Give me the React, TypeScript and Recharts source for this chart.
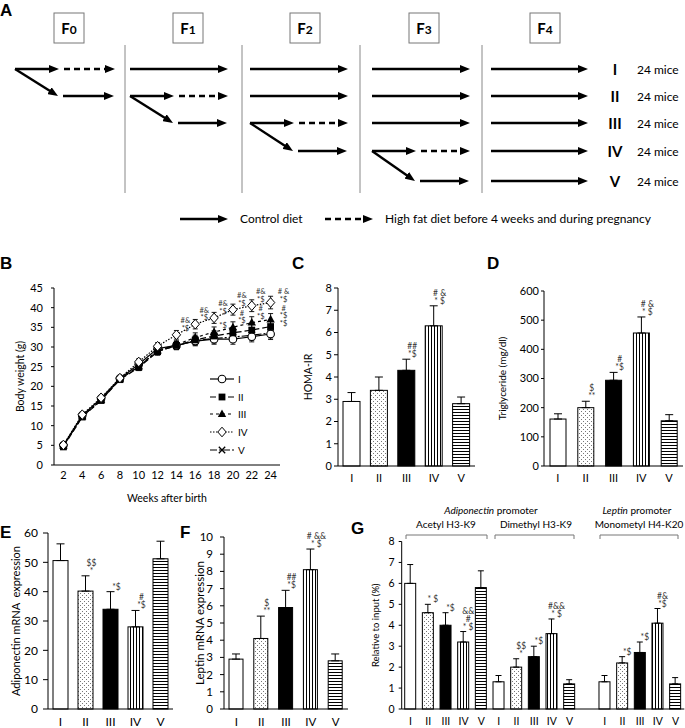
import React from "react";
import { LineChart, Line, BarChart, Bar, XAxis, YAxis, ErrorBar, Legend, Label } from "recharts";

const FONT = 'Lato, "Liberation Sans", Arial, sans-serif';
const INK = "#000";
const NOTE_INK = "#333";

// ---------- A: breeding scheme ----------
const generations = ["F0", "F1", "F2", "F3", "F4"];
const lineages = ["I", "II", "III", "IV", "V"];
const miceLabel = "24 mice";

// ---------- B: body weight (g) ----------
const weeks = [2, 4, 6, 8, 10, 12, 14, 16, 18, 20, 22, 24];
const weightI = [5.0, 12.6, 16.9, 22.0, 25.6, 29.6, 30.4, 31.5, 32.0, 32.0, 32.6, 33.3];
const weightII = [4.6, 12.2, 16.4, 21.7, 24.8, 28.8, 30.4, 31.8, 32.8, 33.6, 34.3, 35.2];
const weightIII = [4.9, 12.4, 16.6, 21.9, 25.1, 29.1, 30.6, 32.4, 33.8, 35.0, 36.2, 37.0];
const weightIV = [5.1, 12.8, 17.1, 22.1, 26.2, 30.2, 33.1, 35.8, 37.4, 39.5, 40.5, 41.3];
const weightV = [4.8, 12.3, 16.5, 21.8, 25.0, 29.0, 30.3, 31.6, 32.2, 32.5, 33.0, 33.6];
const weightSemI = [0.4, 0.6, 0.6, 0.6, 0.8, 0.9, 1.0, 1.2, 1.3, 1.3, 1.3, 1.4];
const weightSemII = [0.4, 0.6, 0.6, 0.6, 0.8, 0.9, 1.0, 1.2, 1.3, 1.4, 1.4, 1.5];
const weightSemIII = [0.4, 0.6, 0.6, 0.6, 0.8, 0.9, 1.0, 1.2, 1.3, 1.4, 1.5, 1.5];
const weightSemIV = [0.4, 0.6, 0.6, 0.6, 0.8, 0.9, 1.1, 1.2, 1.4, 1.4, 1.5, 1.6];
const weightSemV = [0.4, 0.6, 0.6, 0.6, 0.8, 0.9, 1.0, 1.1, 1.2, 1.2, 1.3, 1.3];
const notesI: string[] = [];
const notesII = ["", "", "", "", "", "", "", "", "", "", "", "*$"];
const notesIII = ["", "", "", "", "", "", "", "", "*$", "#|*$", "#|*$", "#|*$"];
const notesIV = ["", "", "", "", "", "", "#&|*$", "#&|*$", "#&|*$", "#&|*$", "#&|*$", "# &|*$"];
const notesV: string[] = [];
const weightTicks = [0, 5, 10, 15, 20, 25, 30, 35, 40, 45];

// ---------- C-G: group bars ----------
const groups = ["I", "II", "III", "IV", "V"];
const homaIr = [2.9, 3.4, 4.3, 6.3, 2.8];
const homaIrSem = [0.4, 0.6, 0.5, 0.9, 0.3];
const homaIrNotes = ["", "", "##|*$", "# &|* $", ""];
const triglyceride = [161, 200, 294, 456, 155];
const triglycerideSem = [18, 22, 27, 55, 21];
const triglycerideNotes = ["", "$|**", "#|*$", "# &|* $", ""];
const adiponectinMrna = [50.6, 40.2, 34.0, 28.0, 51.2];
const adiponectinMrnaSem = [5.7, 5.2, 6.0, 5.6, 6.0];
const adiponectinNotes = ["", "$$|*", "*$", "#|*$", ""];
const leptinMrna = [2.9, 4.1, 5.9, 8.1, 2.8];
const leptinMrnaSem = [0.3, 1.3, 1.0, 1.2, 0.4];
const leptinNotes = ["", "$|**", "##|*$", "# &&|* $", ""];
const acetylH3K9 = [6.0, 4.6, 4.0, 3.2, 5.8];
const acetylH3K9Sem = [0.9, 0.4, 0.6, 0.5, 0.8];
const acetylNotes = ["", "* $", "*$", "&&|#|* $", ""];
const dimethylH3K9 = [1.3, 2.0, 2.5, 3.6, 1.2];
const dimethylH3K9Sem = [0.3, 0.4, 0.5, 0.7, 0.2];
const dimethylNotes = ["", "$$|*", "*$", "#&&|* $", ""];
const monomethylH4K20 = [1.3, 2.2, 2.7, 4.1, 1.2];
const monomethylH4K20Sem = [0.3, 0.3, 0.5, 0.7, 0.3];
const monomethylNotes = ["", "*$", "*$", "#&|*$", ""];

const ticksC = [0, 1, 2, 3, 4, 5, 6, 7, 8];
const ticksD = [0, 100, 200, 300, 400, 500, 600];
const ticksE = [0, 10, 20, 30, 40, 50, 60];
const ticksF = [0, 1, 2, 3, 4, 5, 6, 7, 8, 9, 10];
const ticksG = [0, 1, 2, 3, 4, 5, 6, 7, 8];

const FILL_BY_GROUP: Record<string, string> = {
  I: "#fff",
  II: "url(#pat-dots)",
  III: "#000",
  IV: "url(#pat-vert)",
  V: "url(#pat-horz)",
};

const toRows = (values: number[], sem: number[], notes: string[]) =>
  groups.map((g, i) => ({ label: g, value: values[i], err: [0, sem[i]], note: notes[i] }));

const rowsC = toRows(homaIr, homaIrSem, homaIrNotes);
const rowsD = toRows(triglyceride, triglycerideSem, triglycerideNotes);
const rowsE = toRows(adiponectinMrna, adiponectinMrnaSem, adiponectinNotes);
const rowsF = toRows(leptinMrna, leptinMrnaSem, leptinNotes);
const rowsG = [
  ...toRows(acetylH3K9, acetylH3K9Sem, acetylNotes),
  ...toRows(dimethylH3K9, dimethylH3K9Sem, dimethylNotes),
  { label: "", value: null, err: null, note: "" },
  ...toRows(monomethylH4K20, monomethylH4K20Sem, monomethylNotes),
];

const SERIES = [
  { key: "I", values: weightI, sem: weightSemI, notes: notesI, dash: undefined, marker: "circle" },
  { key: "II", values: weightII, sem: weightSemII, notes: notesII, dash: "6 3", marker: "square" },
  { key: "III", values: weightIII, sem: weightSemIII, notes: notesIII, dash: "3 3", marker: "triangle" },
  { key: "IV", values: weightIV, sem: weightSemIV, notes: notesIV, dash: "1.5 1.5", marker: "diamond" },
  { key: "V", values: weightV, sem: weightSemV, notes: notesV, dash: "7 2 2 2", marker: "cross" },
];
const DRAW_ORDER = ["V", "I", "II", "III", "IV"];

const weightRows = weeks.map((w, i) => {
  const row: any = { week: w };
  SERIES.forEach((s) => {
    row[s.key] = s.values[i];
    row[s.key + "Err"] = s.sem[i];
    row[s.key + "Note"] = s.notes[i] ?? "";
  });
  return row;
});

function Marker({ kind, cx, cy }: { kind: string; cx: number; cy: number }) {
  switch (kind) {
    case "circle":
      return <circle cx={cx} cy={cy} r={3.8} fill="#fff" stroke={INK} strokeWidth={1.1} />;
    case "square":
      return <rect x={cx - 3.4} y={cy - 3.4} width={6.8} height={6.8} fill={INK} />;
    case "triangle":
      return <polygon points={`${cx},${cy - 4.6} ${cx + 4.2},${cy + 3} ${cx - 4.2},${cy + 3}`} fill={INK} />;
    case "diamond":
      return (
        <polygon
          points={`${cx},${cy - 4.8} ${cx + 4.2},${cy} ${cx},${cy + 4.8} ${cx - 4.2},${cy}`}
          fill="#fff"
          stroke={INK}
          strokeWidth={1}
        />
      );
    default:
      return (
        <path
          d={`M${cx - 3.2},${cy - 3.2}L${cx + 3.2},${cy + 3.2}M${cx + 3.2},${cy - 3.2}L${cx - 3.2},${cy + 3.2}`}
          stroke={INK}
          strokeWidth={1.3}
        />
      );
  }
}

const noteLines = (note: string, x: number, base: number, step: number, size: number) => {
  if (!note) return null;
  const lines = note.split("|");
  return lines.map((t, i) => (
    <text
      key={i}
      x={x}
      y={base - (lines.length - 1 - i) * step}
      textAnchor="middle"
      fontSize={size}
      fill={NOTE_INK}
      style={{ whiteSpace: "pre" }}
    >
      {t}
    </text>
  ));
};

const renderPoint = (s: any) => (p: any) => {
  const { cx, cy, index, payload } = p;
  const last = index === weeks.length - 1;
  return (
    <g key={`${s.key}-${index}`}>
      <Marker kind={s.marker} cx={cx} cy={cy} />
      {noteLines(payload[s.key + "Note"], cx + (last ? 13 : 9), cy - (last ? 1 : 4), 7.5, 7.5)}
    </g>
  );
};

const renderLegend = () => (
  <div style={{ fontSize: 10, fontFamily: FONT, color: INK }}>
    {SERIES.map((s) => (
      <div key={s.key} style={{ display: "flex", alignItems: "center", height: 17.8 }}>
        <svg width={26} height={12}>
          <line x1={0} x2={24} y1={6} y2={6} stroke={INK} strokeWidth={1.2} strokeDasharray={s.dash} />
          <Marker kind={s.marker} cx={12} cy={6} />
        </svg>
        <span style={{ marginLeft: 2 }}>{s.key}</span>
      </div>
    ))}
  </div>
);

const yTitle = (text: string, dx: number, size: number) => (props: any) => {
  const vb = props.viewBox || {};
  const cx = (vb.x ?? 0) + dx;
  const cy = (vb.y ?? 0) + (vb.height ?? 0) / 2;
  return (
    <text
      x={cx}
      y={cy}
      transform={`rotate(-90 ${cx} ${cy})`}
      textAnchor="middle"
      dominantBaseline="central"
      fontSize={size}
      fill={INK}
      style={{ whiteSpace: "pre" }}
    >
      {text}
    </text>
  );
};

const makeBarShape = (noteDx: number) => (p: any) => {
  const { x, y, width, height, payload } = p;
  if (!payload || payload.value == null) return <g />;
  const errTop = y - (payload.err ? payload.err[1] : 0) * (height / payload.value);
  return (
    <g>
      <rect x={x} y={y} width={width} height={height} fill={FILL_BY_GROUP[payload.label]} stroke={INK} strokeWidth={1} />
      {noteLines(payload.note, x + width / 2 + noteDx, errTop - 2, 8, 8.5)}
    </g>
  );
};

type BarPanelProps = {
  rows: any[];
  ticks: number[];
  box: [number, number, number, number];
  margin: { top: number; right: number; bottom: number; left: number };
  xAxisHeight: number;
  barSize: number;
  title: string;
  titleDx: number;
  titleSize: number;
  fontSize: number;
  xTickMargin: number;
  yTickSize: number;
  yTickMargin: number;
  cap: number;
  noteDx: number;
};

function BarPanel(props: BarPanelProps) {
  const { rows, ticks, box, margin } = props;
  return (
    <div style={{ position: "absolute", left: box[0], top: box[1] }}>
      <BarChart width={box[2]} height={box[3]} data={rows} margin={margin}>
        <XAxis
          dataKey="label"
          interval={0}
          height={props.xAxisHeight}
          tickLine={false}
          tickSize={0}
          tickMargin={props.xTickMargin}
          axisLine={{ stroke: INK }}
          tick={{ fill: INK, fontSize: props.fontSize }}
        />
        <YAxis
          type="number"
          width={30}
          domain={[0, ticks[ticks.length - 1]]}
          ticks={ticks}
          interval={0}
          tickSize={props.yTickSize}
          tickMargin={props.yTickMargin}
          axisLine={{ stroke: INK }}
          tickLine={{ stroke: INK }}
          tick={{ fill: INK, fontSize: props.fontSize }}
        >
          <Label content={yTitle(props.title, props.titleDx, props.titleSize)} />
        </YAxis>
        <Bar dataKey="value" barSize={props.barSize} isAnimationActive={false} shape={makeBarShape(props.noteDx)}>
          <ErrorBar dataKey="err" direction="y" width={props.cap} stroke={INK} strokeWidth={1} />
        </Bar>
      </BarChart>
    </div>
  );
}

// ---------- A layout ----------
const COL_START = [15, 130, 250, 372, 491];
const COL_END = [115, 228, 348, 470, 588];
const ROW_Y = [69, 96, 123, 151, 181];
const BOX_CX = [69, 188, 305, 424, 545];
const SEP_X = [125, 242, 360, 482];

function Arrow({ x1, y1, x2, y2, dashed }: { x1: number; y1: number; x2: number; y2: number; dashed?: boolean }) {
  const len = Math.hypot(x2 - x1, y2 - y1);
  const ux = (x2 - x1) / len;
  const uy = (y2 - y1) / len;
  return (
    <line
      x1={x1}
      y1={y1}
      x2={x2 - ux * 7}
      y2={y2 - uy * 7}
      stroke={INK}
      strokeWidth={2.4}
      strokeDasharray={dashed ? "6 4" : undefined}
      markerEnd="url(#ahead)"
    />
  );
}

function SchemePanel() {
  const arrows: JSX.Element[] = [];
  generations.forEach((_g, g) => {
    const s = COL_START[g];
    const e = COL_END[g];
    lineages.forEach((_l, r) => {
      if (g === 4 || r < g) {
        arrows.push(<Arrow key={`f${g}-${r}`} x1={s} y1={ROW_Y[r]} x2={e} y2={ROW_Y[r]} />);
      }
      if (g < 4 && r === g) {
        arrows.push(<Arrow key={`s${g}`} x1={s} y1={ROW_Y[r]} x2={s + 44} y2={ROW_Y[r]} />);
        arrows.push(<Arrow key={`d${g}`} x1={s + 49} y1={ROW_Y[r]} x2={e} y2={ROW_Y[r]} dashed />);
        arrows.push(<Arrow key={`x${g}`} x1={s} y1={ROW_Y[r]} x2={s + 43} y2={ROW_Y[r + 1]} />);
        arrows.push(<Arrow key={`n${g}`} x1={s + 48} y1={ROW_Y[r + 1]} x2={e - 1} y2={ROW_Y[r + 1]} />);
      }
    });
  });
  return (
    <svg width={685} height={250} style={{ position: "absolute", left: 0, top: 0 }}>
      <defs>
        <marker id="ahead" viewBox="0 0 10 8" refX={3} refY={4} markerWidth={10} markerHeight={8} markerUnits="userSpaceOnUse" orient="auto">
          <path d="M0,0 L10,4 L0,8 z" fill={INK} />
        </marker>
      </defs>
      {generations.map((g, i) => (
        <g key={g}>
          <rect x={BOX_CX[i] - 15} y={13} width={30} height={30} fill="#fff" stroke="#777" strokeWidth={1} />
          <text x={BOX_CX[i]} y={34} textAnchor="middle" fontSize={15} fontWeight={700} fill={INK}>
            {g[0]}
            <tspan fontSize={12}>{g.slice(1)}</tspan>
          </text>
        </g>
      ))}
      {SEP_X.map((x) => (
        <line key={x} x1={x} x2={x} y1={45} y2={193} stroke="#888" strokeWidth={1} />
      ))}
      {arrows}
      {lineages.map((l, r) => (
        <g key={l}>
          <text x={615} y={ROW_Y[r] + 5.5} textAnchor="middle" fontSize={15} fontWeight={700} fill={INK}>
            {l}
          </text>
          <text x={637} y={ROW_Y[r] + 4.5} fontSize={12} fill={INK}>
            {miceLabel}
          </text>
        </g>
      ))}
      <Arrow x1={180} y1={219} x2={228} y2={219} />
      <text x={240} y={223} fontSize={12} fill={INK}>
        Control diet
      </text>
      <Arrow x1={325} y1={219} x2={373} y2={219} dashed />
      <text x={385} y={223} fontSize={12} fill={INK}>
        High fat diet before 4 weeks and during pregnancy
      </text>
    </svg>
  );
}

function WeightPanel() {
  return (
    <div style={{ position: "absolute", left: 0, top: 255 }}>
      <LineChart width={300} height={250} data={weightRows} margin={{ top: 33, right: 20, bottom: 0, left: 24 }}>
        <XAxis
          dataKey="week"
          height={40}
          interval={0}
          padding={{ left: 9.4, right: 9.4 }}
          tickLine={false}
          tickSize={0}
          tickMargin={6}
          axisLine={{ stroke: INK }}
          tick={{ fill: INK, fontSize: 11 }}
        >
          <Label value="Weeks after birth" position="insideBottom" offset={3} fontSize={10.5} fill={INK} />
        </XAxis>
        <YAxis
          type="number"
          width={30}
          domain={[0, 45]}
          ticks={weightTicks}
          interval={0}
          tickSize={3}
          tickMargin={8}
          axisLine={{ stroke: INK }}
          tickLine={{ stroke: INK }}
          tick={{ fill: INK, fontSize: 11 }}
        >
          <Label content={yTitle("Body weight (g)", -4, 10.5)} />
        </YAxis>
        <Legend
          layout="vertical"
          align="center"
          verticalAlign="middle"
          wrapperStyle={{ left: 210, top: 115, width: 50 }}
          content={renderLegend}
        />
        {DRAW_ORDER.map((k) => {
          const s = SERIES.find((x) => x.key === k)!;
          return (
            <Line
              key={k}
              type="linear"
              dataKey={k}
              stroke={INK}
              strokeWidth={1.2}
              strokeDasharray={s.dash}
              dot={renderPoint(s)}
              activeDot={false}
              isAnimationActive={false}
            >
              <ErrorBar dataKey={k + "Err"} direction="y" width={2.5} stroke={INK} strokeWidth={0.9} />
            </Line>
          );
        })}
      </LineChart>
    </div>
  );
}

function Overlay() {
  const letter = (t: string, x: number, y: number) => (
    <text key={t} x={x} y={y} fontSize={17} fontWeight={700} fontFamily='"Liberation Sans", Arial, sans-serif' fill={INK}>
      {t}
    </text>
  );
  const bracket = (x1: number, x2: number) => (
    <path key={x1} d={`M${x1},539 V535 H${x2} V539`} fill="none" stroke="#777" strokeWidth={1} />
  );
  return (
    <svg width={685} height={728} style={{ position: "absolute", left: 0, top: 0, pointerEvents: "none" }}>
      {letter("A", 0, 15.5)}
      {letter("B", 0, 268.5)}
      {letter("C", 292, 268.5)}
      {letter("D", 487, 268.5)}
      {letter("E", 0, 538)}
      {letter("F", 180, 538)}
      {letter("G", 351, 534)}
      <text x={491} y={513.5} textAnchor="middle" fontSize={10} fill={INK}>
        <tspan fontStyle="italic">Adiponectin</tspan> promoter
      </text>
      <text x={637} y={513.5} textAnchor="middle" fontSize={10} fill={INK}>
        <tspan fontStyle="italic">Leptin</tspan> promoter
      </text>
      <text x={446} y={527.5} textAnchor="middle" fontSize={10} fill={INK}>
        Acetyl H3-K9
      </text>
      <text x={536} y={527.5} textAnchor="middle" fontSize={10} fill={INK}>
        Dimethyl H3-K9
      </text>
      <text x={639} y={527.5} textAnchor="middle" fontSize={10} fill={INK}>
        Monometyl H4-K20
      </text>
      {bracket(406, 487)}
      {bracket(495, 574)}
      {bracket(600, 678)}
    </svg>
  );
}

export default function App() {
  return (
    <div
      style={{
        position: "absolute",
        left: 0,
        top: 0,
        width: 685,
        height: 728,
        background: "#fff",
        overflow: "hidden",
        fontFamily: FONT,
      }}
    >
      <svg width={0} height={0} style={{ position: "absolute" }}>
        <defs>
          <pattern id="pat-dots" width={4} height={4} patternUnits="userSpaceOnUse">
            <rect width={4} height={4} fill="#fff" />
            <rect x={0} y={0} width={1} height={1} fill="#777" />
            <rect x={2} y={2} width={1} height={1} fill="#777" />
          </pattern>
          <pattern id="pat-vert" width={3} height={3} patternUnits="userSpaceOnUse">
            <rect width={3} height={3} fill="#fff" />
            <rect x={1} y={0} width={1} height={3} fill="#000" />
          </pattern>
          <pattern id="pat-horz" width={3} height={3} patternUnits="userSpaceOnUse">
            <rect width={3} height={3} fill="#fff" />
            <rect x={0} y={1} width={3} height={1} fill="#000" />
          </pattern>
        </defs>
      </svg>
      <SchemePanel />
      <WeightPanel />
      <BarPanel
        rows={rowsC}
        ticks={ticksC}
        box={[295, 255, 185, 235]}
        margin={{ top: 33, right: 5, bottom: 0, left: 13 }}
        xAxisHeight={24}
        barSize={17}
        title="HOMA-IR"
        titleDx={-0.5}
        titleSize={10.5}
        fontSize={11}
        xTickMargin={8}
        yTickSize={4}
        yTickMargin={2}
        cap={4}
        noteDx={6}
      />
      <BarPanel
        rows={rowsD}
        ticks={ticksD}
        box={[485, 255, 200, 235]}
        margin={{ top: 36, right: 2, bottom: 0, left: 29 }}
        xAxisHeight={24}
        barSize={16}
        title="Triglyceride (mg/dl)"
        titleDx={-12}
        titleSize={10}
        fontSize={11}
        xTickMargin={8}
        yTickSize={3}
        yTickMargin={2}
        cap={4}
        noteDx={6}
      />
      <BarPanel
        rows={rowsE}
        ticks={ticksE}
        box={[0, 485, 180, 245]}
        margin={{ top: 48, right: 7, bottom: 0, left: 18 }}
        xAxisHeight={21}
        barSize={15}
        title="Adiponectin mRNA  expression"
        titleDx={-3}
        titleSize={11}
        fontSize={12}
        xTickMargin={8}
        yTickSize={5}
        yTickMargin={5}
        cap={4}
        noteDx={6}
      />
      <BarPanel
        rows={rowsF}
        ticks={ticksF}
        box={[185, 485, 170, 245]}
        margin={{ top: 52, right: 7, bottom: 0, left: 9 }}
        xAxisHeight={21}
        barSize={14}
        title="Leptin mRNA expression"
        titleDx={5.5}
        titleSize={11.5}
        fontSize={11.5}
        xTickMargin={9}
        yTickSize={4}
        yTickMargin={7}
        cap={4}
        noteDx={6}
      />
      <BarPanel
        rows={rowsG}
        ticks={ticksG}
        box={[360, 485, 325, 245]}
        margin={{ top: 56.5, right: 0.7, bottom: 0, left: 11.7 }}
        xAxisHeight={21}
        barSize={11}
        title="Relative to input (%)"
        titleDx={3.3}
        titleSize={9.5}
        fontSize={10.5}
        xTickMargin={9}
        yTickSize={3}
        yTickMargin={4}
        cap={3}
        noteDx={5}
      />
      <Overlay />
    </div>
  );
}
